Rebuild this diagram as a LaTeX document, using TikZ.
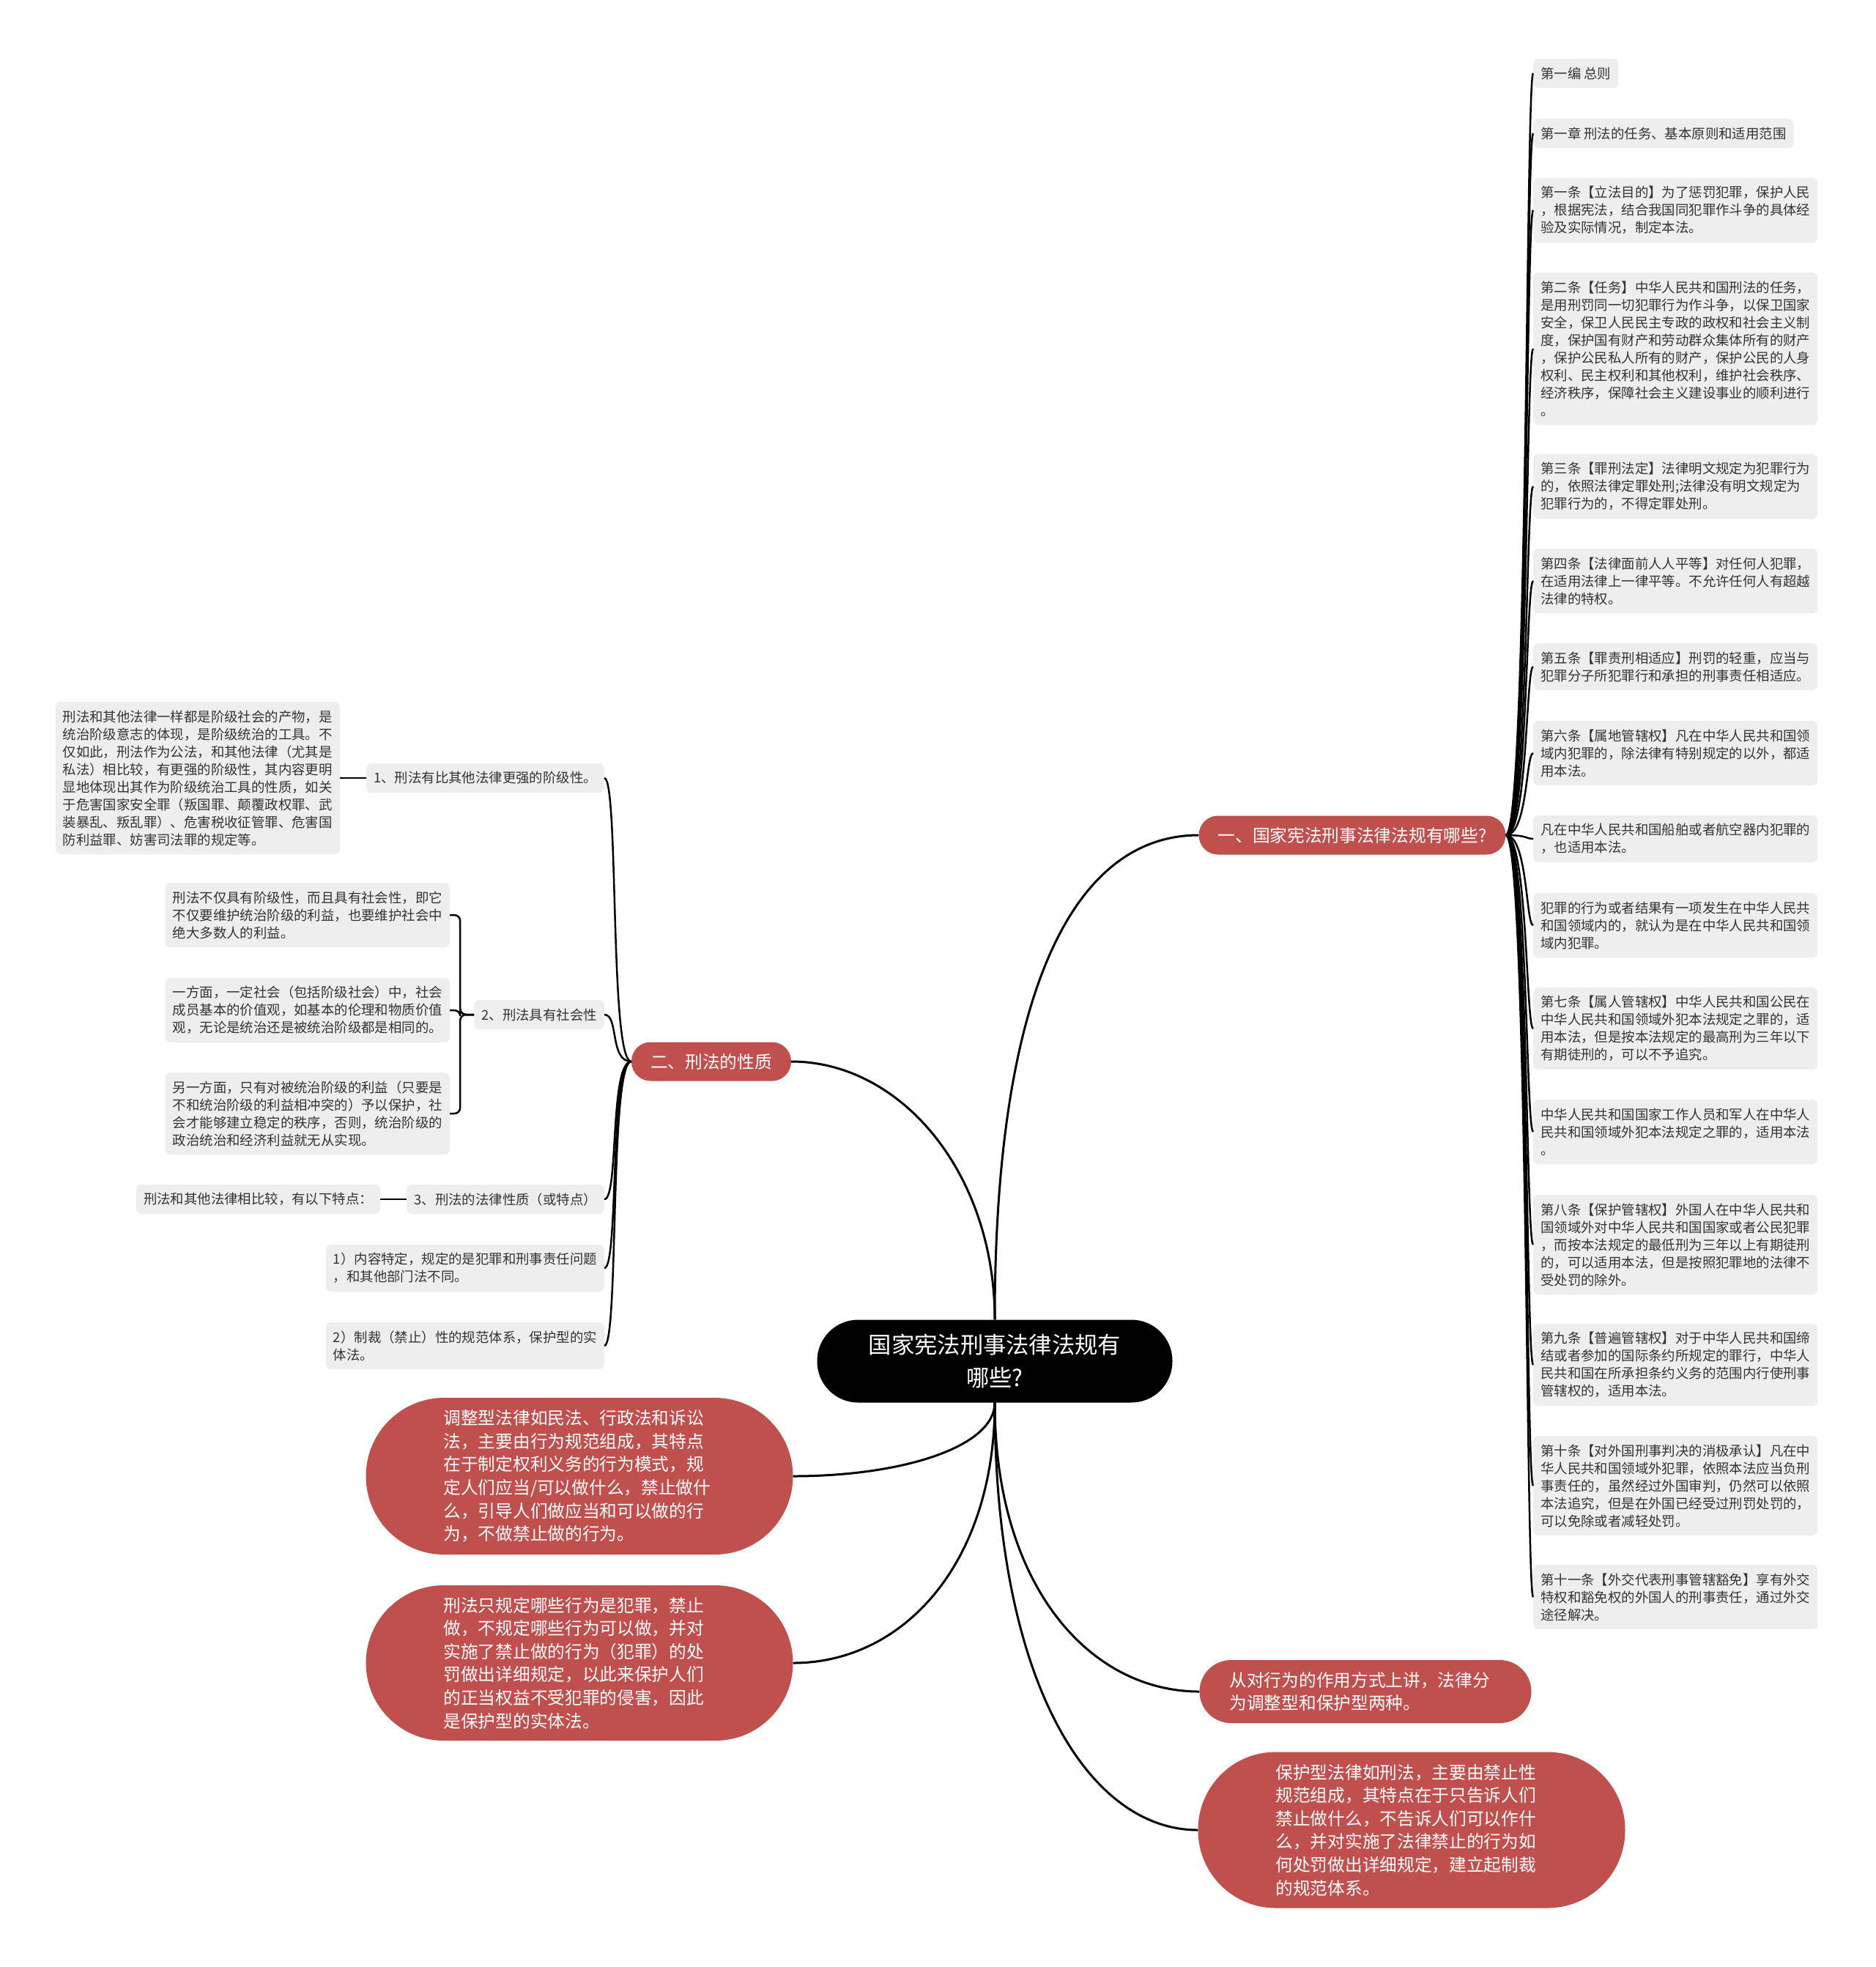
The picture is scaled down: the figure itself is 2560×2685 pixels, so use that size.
\documentclass[tikz,border=0pt]{standalone}
\usepackage{fontspec}
\setmainfont{Noto Sans CJK SC}
\newfontfamily\cjk{Noto Sans CJK SC}
\usetikzlibrary{positioning}
\definecolor{bubblered}{RGB}{192,80,77}
\definecolor{leafgray}{RGB}{238,238,238}
\definecolor{leaftext}{RGB}{51,51,51}

\begin{document}
\begin{tikzpicture}[
        x=1pt, y=-1pt,
        root/.style={fill=black, text=white, rounded corners=56pt, font=\cjk\fontsize{31.3}{45}\selectfont, align=center, minimum width=485pt, minimum height=113pt, inner sep=0pt},
        branch/.style={fill=bubblered, text=white, rounded corners=26pt, font=\cjk\fontsize{23.7}{31.6}\selectfont, inner xsep=26pt, inner ysep=0pt, minimum height=53pt},
        bubble/.style={fill=bubblered, text=white, font=\cjk\fontsize{23.7}{31.6}\selectfont, text width=371pt, align=left, inner ysep=0pt},
        leaf/.style={fill=leafgray, text=leaftext, rounded corners=7pt, font=\cjk\fontsize{18.4}{24}\selectfont, align=left, inner xsep=10pt, inner ysep=0pt, minimum height={24*#1+16}},
        link/.style={line width=2.5pt},
        trunk/.style={line width=3pt}
    ]
        \useasboundingbox (0,0) rectangle (2560,2685);

        % Root and main branches
        \node[root] (root) at (1358,1858) {国家宪法刑事法律法规有\\哪些?};
        \node[branch] (fx) at (1846,1140) {一、国家宪法刑事法律法规有哪些?};
        \node[branch] (xz) at (971,1449) {二、刑法的性质};

        % Bubbles
        \node[bubble, inner xsep=106pt, minimum height=214pt, rounded corners=107pt] (m1) at (791,2015) {调整型法律如民法、行政法和诉讼\\法，主要由行为规范组成，其特点\\在于制定权利义务的行为模式，规\\定人们应当/可以做什么，禁止做什\\么，引导人们做应当和可以做的行\\为，不做禁止做的行为。};
        \node[bubble, inner xsep=106pt, minimum height=212pt, rounded corners=106pt] (m2) at (791,2270) {刑法只规定哪些行为是犯罪，禁止\\做，不规定哪些行为可以做，并对\\实施了禁止做的行为（犯罪）的处\\罚做出详细规定，以此来保护人们\\的正当权益不受犯罪的侵害，因此\\是保护型的实体法。};
        \node[bubble, inner xsep=41pt, minimum height=86pt, rounded corners=43pt] (m3) at (1864,2309) {从对行为的作用方式上讲，法律分\\为调整型和保护型两种。};
        \node[bubble, inner xsep=106pt, minimum height=213pt, rounded corners=106pt] (m4) at (1927,2498) {保护型法律如刑法，主要由禁止性\\规范组成，其特点在于只告诉人们\\禁止做什么，不告诉人们可以作什\\么，并对实施了法律禁止的行为如\\何处罚做出详细规定，建立起制裁\\的规范体系。};

        % Articles
        \node[leaf=1, anchor=west] (a0) at (2093,100) {第一编 总则};
        \node[leaf=1, anchor=west] (a1) at (2093,182) {第一章 刑法的任务、基本原则和适用范围};
        \node[leaf=3, anchor=west] (a2) at (2093,287) {第一条【立法目的】为了惩罚犯罪，保护人民\\，根据宪法，结合我国同犯罪作斗争的具体经\\验及实际情况，制定本法。};
        \node[leaf=8, anchor=west] (a3) at (2093,476) {第二条【任务】中华人民共和国刑法的任务，\\是用刑罚同一切犯罪行为作斗争，以保卫国家\\安全，保卫人民民主专政的政权和社会主义制\\度，保护国有财产和劳动群众集体所有的财产\\，保护公民私人所有的财产，保护公民的人身\\权利、民主权利和其他权利，维护社会秩序、\\经济秩序，保障社会主义建设事业的顺利进行\\。};
        \node[leaf=3, anchor=west] (a4) at (2093,664) {第三条【罪刑法定】法律明文规定为犯罪行为\\的，依照法律定罪处刑;法律没有明文规定为\\犯罪行为的，不得定罪处刑。};
        \node[leaf=3, anchor=west] (a5) at (2093,793) {第四条【法律面前人人平等】对任何人犯罪，\\在适用法律上一律平等。不允许任何人有超越\\法律的特权。};
        \node[leaf=2, anchor=west] (a6) at (2093,910) {第五条【罪责刑相适应】刑罚的轻重，应当与\\犯罪分子所犯罪行和承担的刑事责任相适应。};
        \node[leaf=3, anchor=west] (a7) at (2093,1028) {第六条【属地管辖权】凡在中华人民共和国领\\域内犯罪的，除法律有特别规定的以外，都适\\用本法。};
        \node[leaf=2, anchor=west] (a8) at (2093,1145) {凡在中华人民共和国船舶或者航空器内犯罪的\\，也适用本法。};
        \node[leaf=3, anchor=west] (a9) at (2093,1263) {犯罪的行为或者结果有一项发生在中华人民共\\和国领域内的，就认为是在中华人民共和国领\\域内犯罪。};
        \node[leaf=4, anchor=west] (a10) at (2093,1404) {第七条【属人管辖权】中华人民共和国公民在\\中华人民共和国领域外犯本法规定之罪的，适\\用本法，但是按本法规定的最高刑为三年以下\\有期徒刑的，可以不予追究。};
        \node[leaf=3, anchor=west] (a11) at (2093,1545) {中华人民共和国国家工作人员和军人在中华人\\民共和国领域外犯本法规定之罪的，适用本法\\。};
        \node[leaf=5, anchor=west] (a12) at (2093,1699) {第八条【保护管辖权】外国人在中华人民共和\\国领域外对中华人民共和国国家或者公民犯罪\\，而按本法规定的最低刑为三年以上有期徒刑\\的，可以适用本法，但是按照犯罪地的法律不\\受处罚的除外。};
        \node[leaf=4, anchor=west] (a13) at (2093,1863) {第九条【普遍管辖权】对于中华人民共和国缔\\结或者参加的国际条约所规定的罪行，中华人\\民共和国在所承担条约义务的范围内行使刑事\\管辖权的，适用本法。};
        \node[leaf=5, anchor=west] (a14) at (2093,2028) {第十条【对外国刑事判决的消极承认】凡在中\\华人民共和国领域外犯罪，依照本法应当负刑\\事责任的，虽然经过外国审判，仍然可以依照\\本法追究，但是在外国已经受过刑罚处罚的，\\可以免除或者减轻处罚。};
        \node[leaf=3, anchor=west] (a15) at (2093,2180) {第十一条【外交代表刑事管辖豁免】享有外交\\特权和豁免权的外国人的刑事责任，通过外交\\途径解决。};

        % Nature of criminal law
        \node[leaf=1, anchor=east] (n1) at (825,1062) {1、刑法有比其他法律更强的阶级性。};
        \node[leaf=8, left=36pt of n1] (n1a) {刑法和其他法律一样都是阶级社会的产物，是\\统治阶级意志的体现，是阶级统治的工具。不\\仅如此，刑法作为公法，和其他法律（尤其是\\私法）相比较，有更强的阶级性，其内容更明\\显地体现出其作为阶级统治工具的性质，如关\\于危害国家安全罪（叛国罪、颠覆政权罪、武\\装暴乱、叛乱罪）、危害税收征管罪、危害国\\防利益罪、妨害司法罪的规定等。};
        \node[leaf=1, anchor=east] (n2) at (825,1385) {2、刑法具有社会性};
        \node[leaf=3, anchor=east] (n2a) at (614,1249) {刑法不仅具有阶级性，而且具有社会性，即它\\不仅要维护统治阶级的利益，也要维护社会中\\绝大多数人的利益。};
        \node[leaf=3, anchor=east] (n2b) at (614,1379) {一方面，一定社会（包括阶级社会）中，社会\\成员基本的价值观，如基本的伦理和物质价值\\观，无论是统治还是被统治阶级都是相同的。};
        \node[leaf=4, anchor=east] (n2c) at (614,1520) {另一方面，只有对被统治阶级的利益（只要是\\不和统治阶级的利益相冲突的）予以保护，社\\会才能够建立稳定的秩序，否则，统治阶级的\\政治统治和经济利益就无从实现。};
        \node[leaf=1, anchor=east] (n3) at (825,1637) {3、刑法的法律性质（或特点）};
        \node[leaf=1, left=36pt of n3] (n3a) {刑法和其他法律相比较，有以下特点：};
        \node[leaf=2, anchor=east] (n4) at (825,1731) {1）内容特定，规定的是犯罪和刑事责任问题\\，和其他部门法不同。};
        \node[leaf=2, anchor=east] (n5) at (825,1837) {2）制裁（禁止）性的规范体系，保护型的实\\体法。};

        % Lines from root
        \draw[trunk] (root.north) .. controls +(0,-450) and +(-170,0) .. (fx.west);
        \draw[trunk] (root.north) .. controls +(0,-200) and +(150,0) .. (xz.east);
        \draw[trunk] (root.south) .. controls +(0,60) and +(150,0) .. (m1.east);
        \draw[trunk] (root.south) .. controls +(0,220) and +(150,0) .. (m2.east);
        \draw[trunk] (root.south) .. controls +(0,250) and +(-150,0) .. (m3.west);
        \draw[trunk] (root.south) .. controls +(0,380) and +(-150,0) .. (m4.west);

        % Lines to articles
        \draw[link] (fx.east) .. controls +(30,0) and +(-10,0) .. (a0.west);
        \draw[link] (fx.east) .. controls +(30,0) and +(-10,0) .. (a1.west);
        \draw[link] (fx.east) .. controls +(30,0) and +(-10,0) .. (a2.west);
        \draw[link] (fx.east) .. controls +(30,0) and +(-10,0) .. (a3.west);
        \draw[link] (fx.east) .. controls +(30,0) and +(-10,0) .. (a4.west);
        \draw[link] (fx.east) .. controls +(30,0) and +(-10,0) .. (a5.west);
        \draw[link] (fx.east) .. controls +(30,0) and +(-10,0) .. (a6.west);
        \draw[link] (fx.east) .. controls +(30,0) and +(-10,0) .. (a7.west);
        \draw[link] (fx.east) .. controls +(30,0) and +(-10,0) .. (a8.west);
        \draw[link] (fx.east) .. controls +(30,0) and +(-10,0) .. (a9.west);
        \draw[link] (fx.east) .. controls +(30,0) and +(-10,0) .. (a10.west);
        \draw[link] (fx.east) .. controls +(30,0) and +(-10,0) .. (a11.west);
        \draw[link] (fx.east) .. controls +(30,0) and +(-10,0) .. (a12.west);
        \draw[link] (fx.east) .. controls +(30,0) and +(-10,0) .. (a13.west);
        \draw[link] (fx.east) .. controls +(30,0) and +(-10,0) .. (a14.west);
        \draw[link] (fx.east) .. controls +(30,0) and +(-10,0) .. (a15.west);

        % Lines to nature items
        \draw[link] (xz.west) .. controls +(-30,0) and +(20,0) .. (n1.east);
        \draw[link] (xz.west) .. controls +(-30,0) and +(20,0) .. (n2.east);
        \draw[link] (xz.west) .. controls +(-30,0) and +(20,0) .. (n3.east);
        \draw[link] (xz.west) .. controls +(-30,0) and +(20,0) .. (n4.east);
        \draw[link] (xz.west) .. controls +(-30,0) and +(20,0) .. (n5.east);
        \draw[link] (n1.west) -- (n1a.east);
        \draw[link, rounded corners=8pt] (n2.west) -- ++(-19,0) |- (n2a.east);
        \draw[link, rounded corners=8pt] (n2.west) -- ++(-19,0) |- (n2b.east);
        \draw[link, rounded corners=8pt] (n2.west) -- ++(-19,0) |- (n2c.east);
        \draw[link] (n3.west) -- (n3a.east);
    \end{tikzpicture}
\end{document}
